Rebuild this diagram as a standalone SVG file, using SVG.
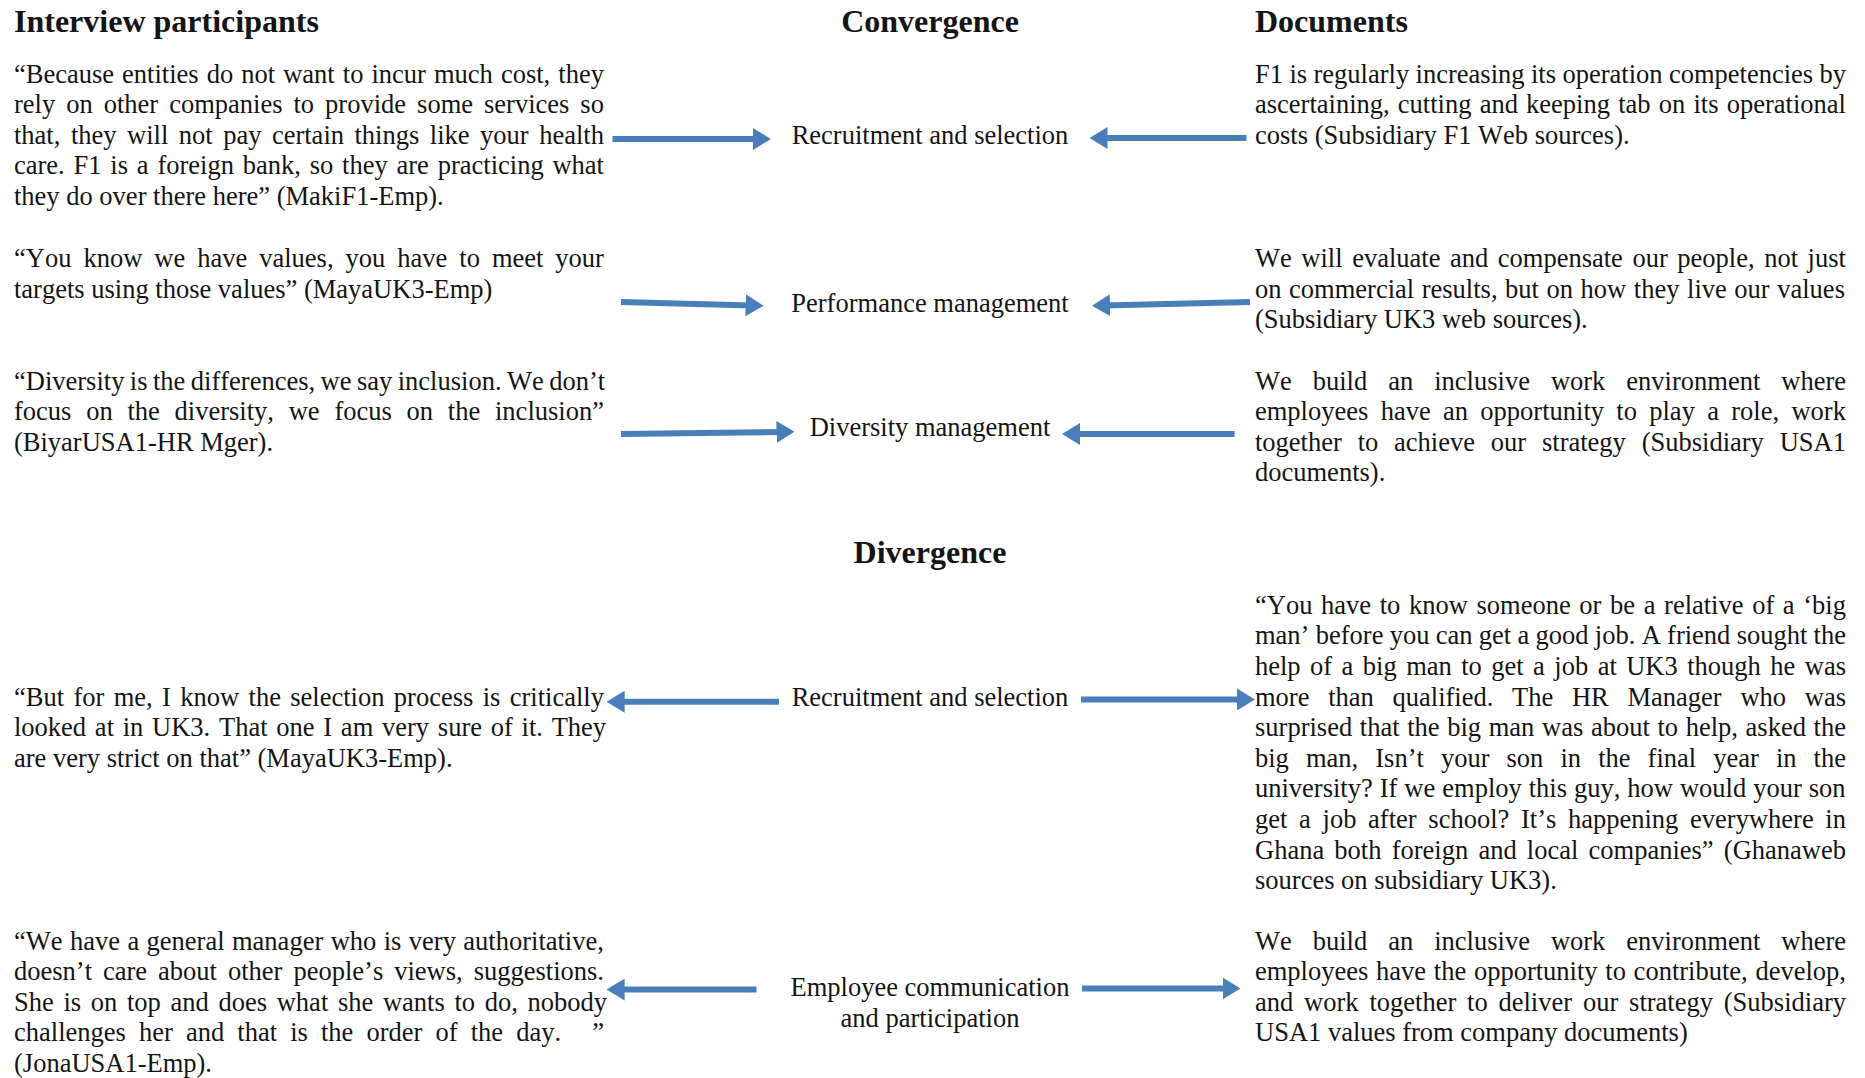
<svg xmlns="http://www.w3.org/2000/svg" width="1865" height="1078" viewBox="0 0 1865 1078">
  <defs>
    <style>
      text { font-family: "Liberation Serif", "Times New Roman", serif; fill: #141414; font-kerning: none; }
      .h { font-size: 32px; font-weight: bold; }
      .b { font-size: 26.5px; }
      .c { font-size: 26.5px; text-anchor: middle; }
      .mid { text-anchor: middle; }
      .arrow { stroke: #4a7ebb; stroke-width: 6; fill: none; marker-end: url(#head); }
    </style>
    <marker id="head" markerUnits="userSpaceOnUse" viewBox="0 0 18 22" refX="6" refY="11" markerWidth="18" markerHeight="22" orient="auto">
      <path d="M0,0 L18,11 L0,22 Z" fill="#4a7ebb"/>
    </marker>
  </defs>
  <rect width="1865" height="1078" fill="#ffffff"/>

  <!-- column and section headings -->
  <g id="heading-interviews"><text class="h" x="14" y="32">Interview participants</text></g>
  <g id="heading-convergence"><text class="h mid" x="930" y="32">Convergence</text></g>
  <g id="heading-documents"><text class="h" x="1255" y="32">Documents</text></g>
  <g id="heading-divergence"><text class="h mid" x="930" y="562.6">Divergence</text></g>

  <!-- convergence: interview quotes -->
  <g id="quote-maki" class="b">
    <text x="14" y="82.5" word-spacing="1.44">“Because entities do not want to incur much cost, they</text>
    <text x="14" y="113.1" word-spacing="4.38">rely on other companies to provide some services so</text>
    <text x="14" y="143.7" word-spacing="3.89">that, they will not pay certain things like your health</text>
    <text x="14" y="174.3" word-spacing="2.19">care. F1 is a foreign bank, so they are practicing what</text>
    <text x="14" y="204.9">they do over there here” (MakiF1-Emp).</text>
  </g>
  <g id="quote-maya-values" class="b">
    <text x="14" y="266.9" word-spacing="5.37">“You know we have values, you have to meet your</text>
    <text x="14" y="297.5">targets using those values” (MayaUK3-Emp)</text>
  </g>
  <g id="quote-biyar" class="b">
    <text x="14" y="389.5" word-spacing="-1.17">“Diversity is the differences, we say inclusion. We don’t</text>
    <text x="14" y="420.1" word-spacing="8.15">focus on the diversity, we focus on the inclusion”</text>
    <text x="14" y="450.7">(BiyarUSA1-HR Mger).</text>
  </g>

  <!-- convergence: practice labels -->
  <g id="conv-recruitment"><text class="c" x="930" y="143.7">Recruitment and selection</text></g>
  <g id="conv-performance"><text class="c" x="930" y="312">Performance management</text></g>
  <g id="conv-diversity"><text class="c" x="930" y="435.7">Diversity management</text></g>

  <!-- convergence: documents -->
  <g id="doc-f1" class="b">
    <text x="1255" y="82.5" word-spacing="-0.19">F1 is regularly increasing its operation competencies by</text>
    <text x="1255" y="113.1" word-spacing="1.57">ascertaining, cutting and keeping tab on its operational</text>
    <text x="1255" y="143.7">costs (Subsidiary F1 Web sources).</text>
  </g>
  <g id="doc-uk3" class="b">
    <text x="1255" y="266.9" word-spacing="2.94">We will evaluate and compensate our people, not just</text>
    <text x="1255" y="297.5" word-spacing="0.95">on commercial results, but on how they live our values</text>
    <text x="1255" y="328.1">(Subsidiary UK3 web sources).</text>
  </g>
  <g id="doc-usa1-inclusion" class="b">
    <text x="1255" y="389.5" word-spacing="14.36">We build an inclusive work environment where</text>
    <text x="1255" y="420.1" word-spacing="5.7">employees have an opportunity to play a role, work</text>
    <text x="1255" y="450.7" word-spacing="9.2">together to achieve our strategy (Subsidiary USA1</text>
    <text x="1255" y="481.3">documents).</text>
  </g>

  <!-- divergence: interview quotes -->
  <g id="quote-maya-selection" class="b">
    <text x="14" y="705.5" word-spacing="2.75">“But for me, I know the selection process is critically</text>
    <text x="14" y="736.1" word-spacing="2.12">looked at in UK3. That one I am very sure of it. They</text>
    <text x="14" y="766.7">are very strict on that” (MayaUK3-Emp).</text>
  </g>
  <g id="quote-jona" class="b">
    <text x="14" y="949.5" word-spacing="0.8">“We have a general manager who is very authoritative,</text>
    <text x="14" y="980.1" word-spacing="4.37">doesn’t care about other people’s views, suggestions.</text>
    <text x="14" y="1010.7" word-spacing="3.06">She is on top and does what she wants to do, nobody</text>
    <text x="14" y="1041.3"><tspan word-spacing="6.5">challenges her and that is the order of the day.</tspan><tspan x="592.2">”</tspan></text>
    <text x="14" y="1071.9">(JonaUSA1-Emp).</text>
  </g>

  <!-- divergence: practice labels -->
  <g id="div-recruitment"><text class="c" x="930" y="705.5">Recruitment and selection</text></g>
  <g id="div-communication">
    <text class="c" x="930" y="996">Employee communication</text>
    <text class="c" x="930" y="1027">and participation</text>
  </g>

  <!-- divergence: documents -->
  <g id="doc-ghanaweb" class="b">
    <text x="1255" y="613.7" word-spacing="2.01">“You have to know someone or be a relative of a ‘big</text>
    <text x="1255" y="644.3" word-spacing="-0.33">man’ before you can get a good job. A friend sought the</text>
    <text x="1255" y="674.9" word-spacing="2.83">help of a big man to get a job at UK3 though he was</text>
    <text x="1255" y="705.5" word-spacing="12.1">more than qualified. The HR Manager who was</text>
    <text x="1255" y="736.1" word-spacing="1.03">surprised that the big man was about to help, asked the</text>
    <text x="1255" y="766.7" word-spacing="10.45">big man, Isn’t your son in the final year in the</text>
    <text x="1255" y="797.3" word-spacing="0.36">university? If we employ this guy, how would your son</text>
    <text x="1255" y="827.9" word-spacing="5.07">get a job after school? It’s happening everywhere in</text>
    <text x="1255" y="858.5" word-spacing="3.57">Ghana both foreign and local companies” (Ghanaweb</text>
    <text x="1255" y="889.1">sources on subsidiary UK3).</text>
  </g>
  <g id="doc-usa1-values" class="b">
    <text x="1255" y="949.5" word-spacing="14.36">We build an inclusive work environment where</text>
    <text x="1255" y="980.1" word-spacing="1.1">employees have the opportunity to contribute, develop,</text>
    <text x="1255" y="1010.7" word-spacing="4.21">and work together to deliver our strategy (Subsidiary</text>
    <text x="1255" y="1041.3">USA1 values from company documents)</text>
  </g>

  <!-- connectors -->
  <g id="connectors">
    <path class="arrow" d="M612.5,139 L759,139"/>
    <path class="arrow" d="M1246.5,138 L1101.5,138"/>
    <path class="arrow" d="M621,302 L751.6,305.4"/>
    <path class="arrow" d="M1250,302 L1104,305.4"/>
    <path class="arrow" d="M621,434 L782.5,431.9"/>
    <path class="arrow" d="M1234.6,434 L1074,434"/>
    <path class="arrow" d="M779,701.7 L618.6,701.7"/>
    <path class="arrow" d="M1081,699.4 L1243,699.4"/>
    <path class="arrow" d="M756.5,989.6 L618.6,989.6"/>
    <path class="arrow" d="M1082,988.4 L1228.5,988.4"/>
  </g>
</svg>
